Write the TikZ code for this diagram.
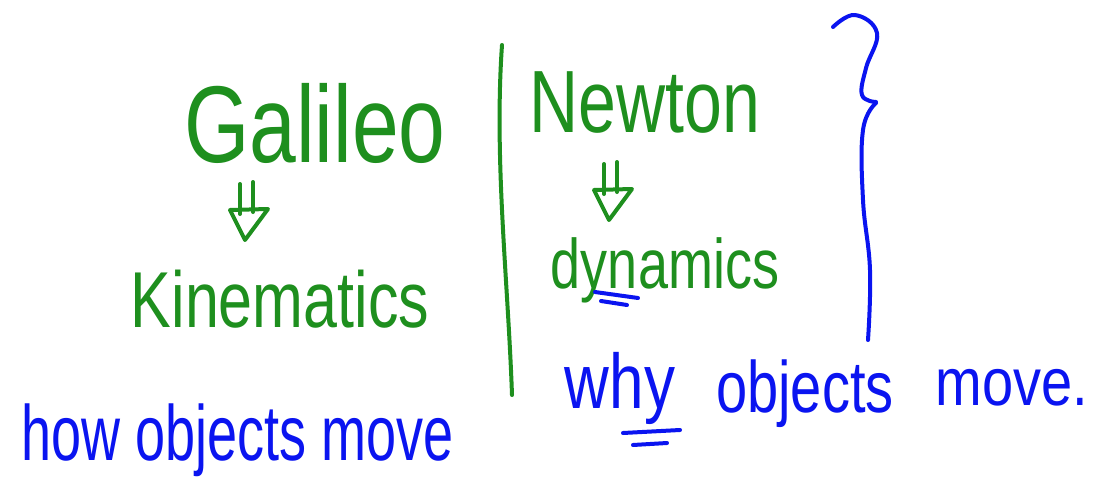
\documentclass[tikz,border=0pt]{standalone}
\usepackage{fontspec}
\usepackage{graphicx}
\setmainfont{Liberation Sans}
\usetikzlibrary{positioning}
\definecolor{inkgreen}{HTML}{1E8F1E}
\definecolor{inkblue}{HTML}{0A14F0}
% handwriting is taller than the font, so stretch it up
\newcommand\tallink[2][1.3]{\scalebox{1}[#1]{#2}}
\tikzset{
  gpen/.style={draw=inkgreen,line width=4pt,line cap=round,line join=round},
  bpen/.style={draw=inkblue,line width=4pt,line cap=round,line join=round},
  % hand-drawn double arrow, tip at the pic origin
  dbldown/.pic={
    \draw[gpen] (-5,-56) -- (-5,-26);
    \draw[gpen] (8,-58) -- (8,-28);
    \draw[gpen] (-15,-30) -- (0,0) -- (23,-31) -- cycle;}
}
\begin{document}
\begin{tikzpicture}[x=1pt,y=-1pt,inner sep=0pt]
    % one unit is one pixel of the page, y runs down
    \fill[white] (0,0) rectangle (1096,485);
    \useasboundingbox (0,0) rectangle (1096,485);

    % left column
    \node[text=inkgreen,anchor=base,font=\fontsize{84}{84}\selectfont] (galileo) at (315,162) {\tallink{Galileo}};
    \node[text=inkgreen,anchor=base,font=\fontsize{61}{61}\selectfont] (kinematics) at (280,327) {\tallink{Kinematics}};
    \coordinate (tipA) at (245,240);
    \pic at (tipA) {dbldown};
    \node[text=inkblue,anchor=base,font=\fontsize{54}{54}\selectfont] (how) at (238,460) {\tallink[1.45]{how objects move}};

    % the divider
    \draw[gpen] (502,45) .. controls (494,160) and (508,280) .. (512,395);

    % right column
    \node[text=inkgreen,anchor=base,font=\fontsize{68}{68}\selectfont] (newton) at (645,132) {\tallink{Newton}};
    \coordinate (tipB) at (609,220);
    \pic at (tipB) {dbldown};
    \node[text=inkgreen,anchor=base,font=\fontsize{54}{54}\selectfont] (dynamics) at (665,288) {\tallink{dynamics}};
    \draw[bpen] (595,292) -- (638,298);
    \draw[bpen] (601,301) -- (627,305);

    \node[text=inkblue,anchor=base,font=\fontsize{62}{62}\selectfont] (why) at (620,408) {\tallink[1.25]{why}};
    \node[text=inkblue,anchor=base,font=\fontsize{56}{56}\selectfont] (objects) at (805,412) {\tallink[1.3]{objects}};
    \node[text=inkblue,anchor=base,font=\fontsize{56}{56}\selectfont] (move) at (1012,405) {\tallink[1.2]{move.}};
    \draw[bpen] (623,433) -- (680,430);
    \draw[bpen] (633,445) -- (667,443);

    % the brace round the right column
    \draw[bpen] plot[smooth,tension=0.7] coordinates {(833,27) (855,15) (877,33) (866,68) (862,95) (876,102)};
    \draw[bpen] plot[smooth,tension=0.7] coordinates {(876,103) (863,130) (863,200) (870,270) (868,340)};
\end{tikzpicture}
\end{document}
